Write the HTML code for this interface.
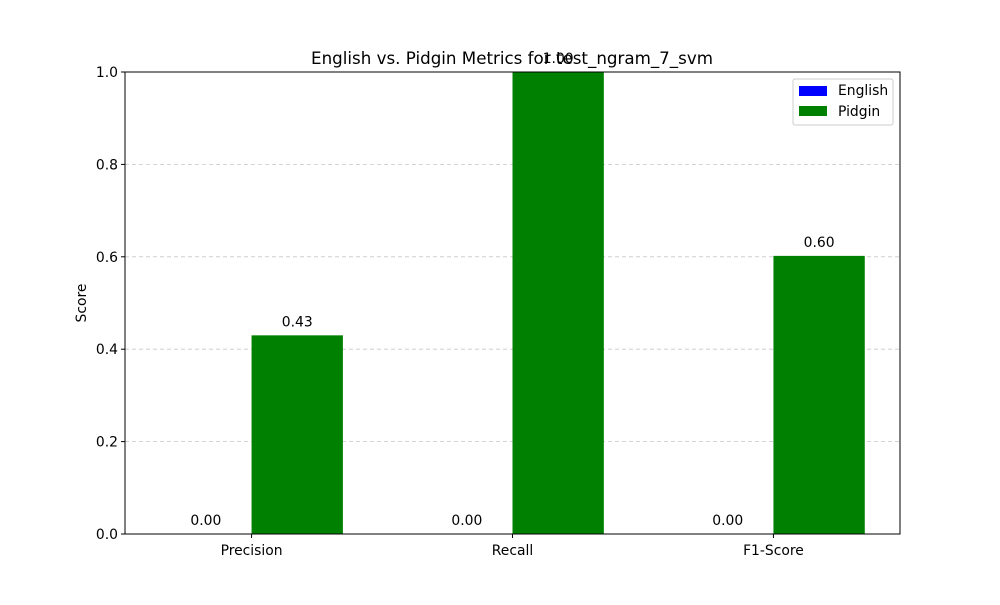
<!DOCTYPE html>
<html><head><meta charset="utf-8"><style>body{margin:0;background:#fff}svg{font-family:"DejaVu Sans","Liberation Sans",sans-serif}</style></head>
<body>
<svg id="chart" width="1000" height="600" viewBox="0 0 1000 600">
<rect width="1000" height="600" fill="#fff"/>
<g id="grid"></g><g id="bars"></g><g id="labels"></g><g id="axes"></g>
<text x="512" y="64" text-anchor="middle" font-size="16.7">English vs. Pidgin Metrics for test_ngram_7_svm</text>
<text transform="translate(86,303) rotate(-90)" text-anchor="middle" font-size="13.9">Score</text>
<g>
<rect x="793" y="79" width="100" height="46" fill="#fff" fill-opacity="0.8" stroke="#ccc" rx="2"/>
<rect x="799" y="86" width="28" height="10" fill="#0000ff"/>
<text x="838" y="95" font-size="13.9">English</text>
<rect x="799" y="106" width="28" height="10" fill="#008000"/>
<text x="838" y="116" font-size="13.9">Pidgin</text>
</g>
</svg>
<script>
const categories=["Precision","Recall","F1-Score"];
const englishValues=[0,0,0];
const pidginValues=[0.4300,1.0,0.602];
const yTicks=[0,0.2,0.4,0.6,0.8,1.0];
const L=125,R=900,T=72,B=534,W=0.35;
const x=v=>L+(v+0.485)/2.97*(R-L);
const y=v=>B-v*(B-T);
const NS="http://www.w3.org/2000/svg";
function mk(p,t,a){const e=document.createElementNS(NS,t);for(const k in a)e.setAttribute(k,a[k]);document.getElementById(p).appendChild(e);return e;}
yTicks.forEach(t=>{
 if(t>0&&t<1){const g=mk('grid','line',{x1:L,x2:R,y1:y(t),y2:y(t),stroke:'#b0b0b0','stroke-dasharray':'4,3','stroke-width':0.8,opacity:0.7});
 
 }
 const tk=mk('axes','line',{x1:L-4,x2:L,y1:y(t),y2:y(t),stroke:'#000'});
 
 
 const lb=mk('axes','text',{x:L-7,y:y(t)+5,'text-anchor':'end','font-size':13.9});lb.textContent=t.toFixed(1);
 
 
});
categories.forEach((c,i)=>{
 [[englishValues,-W/2,'#0000ff','english'],[pidginValues,W/2,'#008000','pidgin']].forEach(([vals,off,col,nm])=>{
  const v=vals[i];
  const r=mk('bars','rect',{x:x(i+off-W/2),y:y(v),width:x(i+off+W/2)-x(i+off-W/2),height:y(0)-y(v),fill:col});
  
  
  const t=mk('labels','text',{x:x(i+off),y:y(v)-9,'text-anchor':'middle','font-size':13.9});t.textContent=v.toFixed(2);
  
  
 });
 const tk=mk('axes','line',{x1:x(i),x2:x(i),y1:B,y2:B+4,stroke:'#000'});
 
 
 const lb=mk('axes','text',{x:x(i),y:B+21,'text-anchor':'middle','font-size':13.9});lb.textContent=c;
 
 
});
const fr=mk('axes','rect',{x:L,y:T,width:R-L,height:B-T,fill:'none',stroke:'#000','stroke-width':1});


</script>
</body></html>
